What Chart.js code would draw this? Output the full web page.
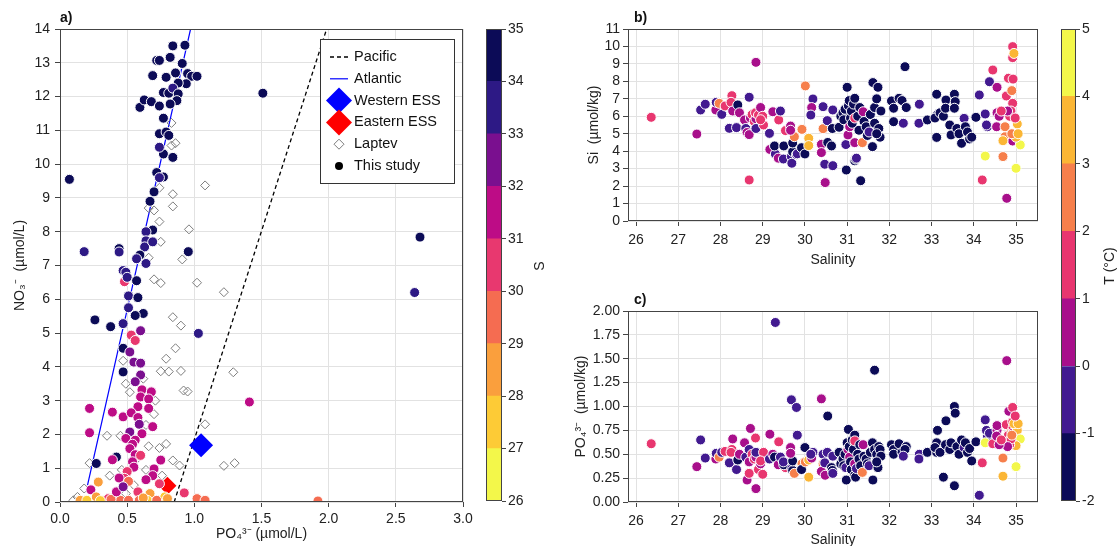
<!DOCTYPE html>
<html>
<head>
<meta charset="utf-8">
<script src="https://cdn.jsdelivr.net/npm/chart.js@4.4.1/dist/chart.umd.min.js"></script>
<style>
  html, body { margin: 0; padding: 0; background: #fff; }
  #wrap { position: relative; width: 1120px; height: 546px; overflow: hidden; }
  canvas { position: absolute; }
</style>
</head>
<body>
<div id="wrap">
  <canvas id="panelA" width="480" height="546" style="left:0;top:0"></canvas>
  <canvas id="barS" width="70" height="546" style="left:486px;top:0"></canvas>
  <canvas id="panelB" width="486" height="272" style="left:560px;top:0"></canvas>
  <canvas id="panelC" width="486" height="280" style="left:560px;top:272px"></canvas>
  <canvas id="barT" width="59" height="546" style="left:1061px;top:0"></canvas>
</div>
<script>
// ---- panel a: NO3 vs PO4, coloured by salinity ----
const studyPO4 = [
  0.07, 0.18, 0.44, 0.44, 0.47, 1.51, 0.595, 0.627, 0.68, 0.69,
  0.72, 0.74, 0.74, 0.77, 0.74, 0.79, 0.81, 0.77, 0.84, 0.74,
  0.72, 0.77, 0.74, 0.70, 0.67, 0.69, 0.64, 0.64, 0.63, 0.69,
  0.595, 0.57, 0.64, 0.955, 0.79, 0.84, 0.93, 0.82, 0.91, 0.86,
  0.95, 0.98, 1.02, 0.94, 0.88, 0.77, 0.81, 0.84, 0.88, 0.87,
  0.82, 2.68, 2.64, 1.92, 0.26, 0.377, 0.27, 0.42, 0.39, 0.22,
  0.22, 0.39, 0.47, 0.48, 0.49, 0.50, 0.51, 0.57, 0.58, 0.62,
  0.56, 0.51, 0.47, 0.53, 0.56, 0.60, 0.47, 0.52, 0.55, 0.60,
  0.60, 0.47, 0.56, 0.61, 0.68, 0.60, 0.66, 0.58, 0.66, 0.53,
  0.58, 0.59, 0.52, 0.61, 0.69, 0.49, 0.56, 0.54, 0.52, 0.56,
  0.54, 0.60, 0.55, 0.70, 0.75, 0.69, 0.74, 0.64, 0.50, 0.48,
  0.44, 0.23, 0.285, 0.51, 0.58, 0.925, 0.67, 0.78, 0.15, 0.20,
  0.27, 0.32, 0.36, 0.41, 0.45, 0.51, 0.59, 0.65, 0.72, 0.80,
  1.02, 1.08, 0.30, 0.38, 0.62, 0.42, 0.47, 1.41, 1.03
];
const studyNO3 = [
  9.55, 7.41, 7.50, 7.40, 6.85, 12.10, 11.68, 11.90, 11.85, 12.62,
  13.07, 13.07, 11.72, 11.36, 10.90, 10.95, 10.85, 10.30, 10.20, 10.50,
  9.75, 9.62, 9.60, 9.18, 8.90, 8.05, 8.00, 7.73, 7.55, 7.70,
  7.31, 7.20, 7.06, 7.41, 12.57, 13.50, 13.52, 13.16, 12.98, 12.70,
  12.68, 12.60, 12.60, 12.38, 12.40, 12.12, 12.10, 12.25, 12.08, 11.88,
  11.78, 7.84, 6.20, 0.03, 5.39, 5.19, 1.14, 1.33, 1.25, 2.77,
  2.05, 2.66, 2.52, 6.52, 6.80, 6.65, 6.10, 6.55, 6.05, 5.58,
  5.52, 5.75, 5.28, 4.94, 4.78, 5.07, 4.55, 4.44, 4.14, 4.11,
  3.76, 3.85, 3.56, 3.32, 3.26, 3.11, 3.05, 2.82, 2.77, 2.64,
  2.50, 2.30, 2.07, 2.02, 2.23, 1.88, 1.83, 1.71, 1.58, 1.40,
  1.19, 1.38, 1.03, 0.98, 1.24, 0.78, 0.54, 0.66, 0.90, 0.70,
  0.71, 0.36, 0.59, 0.61, 0.30, 0.27, 0.25, 0.15, 0.05, 0.05,
  0.15, 0.05, 0.10, 0.05, 0.05, 0.05, 0.05, 0.05, 0.05, 0.10,
  0.10, 0.05, 0.04, 0.08, 0.12, 0.30, 0.45, 2.96, 4.99
];
const studySal = [
  34.6, 33.6, 34.4, 33.5, 33.4, 34.5, 34.7, 34.5, 34.6, 34.5,
  34.6, 34.4, 34.5, 34.3, 34.5, 34.4, 34.6, 34.5, 34.5, 33.6,
  34.4, 34.5, 33.5, 34.5, 34.6, 34.4, 33.5, 33.4, 33.5, 33.6,
  34.5, 33.5, 33.4, 34.5, 34.6, 34.7, 34.6, 34.5, 34.6, 34.5,
  34.5, 34.6, 34.5, 34.6, 34.5, 34.5, 34.6, 33.6, 34.5, 34.4,
  34.5, 34.6, 33.6, 29.5, 34.5, 34.6, 34.5, 34.5, 31.5, 31.5,
  31.5, 31.5, 31.4, 30.5, 33.5, 33.6, 33.5, 34.5, 34.4, 34.5,
  34.6, 33.5, 33.4, 30.5, 30.6, 32.5, 34.5, 32.5, 32.5, 32.4,
  32.5, 34.5, 32.5, 31.5, 31.5, 31.4, 31.5, 31.5, 31.6, 31.5,
  31.5, 32.5, 32.5, 31.5, 31.5, 31.5, 31.4, 31.5, 31.5, 31.5,
  31.6, 30.5, 31.5, 31.5, 31.3, 31.5, 30.5, 31.5, 30.5, 30.5,
  31.5, 31.5, 28.5, 29.5, 30.5, 30.5, 28.5, 27.5, 28.5, 27.5,
  28.5, 28.5, 30.5, 28.5, 29.5, 29.5, 29.5, 27.5, 29.5, 28.5,
  29.5, 29.5, 27.5, 29.5, 28.5, 31.5, 32.5, 31.5, 33.6
];
const laptevPO4 = [
  0.83, 0.83, 0.86, 1.08, 0.84, 0.84, 0.96, 0.74, 0.70, 0.66,
  0.75, 0.91, 0.74, 0.66, 0.70, 0.75, 1.02, 1.22, 0.84, 0.90,
  0.86, 0.79, 0.75, 0.81, 0.90, 1.29, 0.92, 0.95, 0.49, 0.52,
  0.47, 0.62, 0.71, 0.70, 0.64, 1.08, 0.35, 0.45, 0.52, 0.66,
  0.74, 0.79, 0.84, 0.89, 0.56, 0.46, 0.37, 0.22, 0.18, 0.13,
  0.10, 1.22, 1.30, 0.76, 0.80, 0.64, 0.55, 0.49
];
const laptevNO3 = [
  11.22, 10.55, 10.62, 9.37, 9.11, 8.75, 8.07, 8.30, 8.63, 8.70,
  7.70, 7.18, 9.30, 7.23, 6.59, 6.48, 6.49, 6.21, 5.47, 5.22,
  4.55, 4.24, 3.87, 3.86, 3.88, 3.84, 3.30, 3.27, 3.50, 3.25,
  4.18, 3.65, 3.00, 2.60, 2.28, 2.30, 1.96, 1.96, 1.90, 1.65,
  1.60, 1.72, 1.23, 1.08, 1.23, 0.95, 0.78, 1.15, 0.40, 0.15,
  0.05, 1.07, 1.15, 0.78, 0.55, 0.95, 0.50, 0.25
];
const westernPO4 = [1.05], westernNO3 = [1.68];
const easternPO4 = [0.80], easternNO3 = [0.48];
const pacificPO4 = [0.85, 1.985], pacificNO3 = [0, 14];
const atlanticPO4 = [0.205, 0.972], atlanticNO3 = [0.5, 14];

// ---- panels b, c: Si and PO4 vs salinity, coloured by temperature ----
const salinity = [
  26.36, 27.44, 27.53, 27.64, 27.89, 27.90, 27.97, 28.03, 28.11, 28.21,
  28.27, 28.25, 28.29, 28.38, 28.41, 28.45, 28.57, 28.60, 28.63, 28.68,
  28.68, 28.68, 28.71, 28.75, 28.80, 28.84, 28.84, 28.84, 28.83, 28.90,
  28.95, 29.00, 29.02, 28.95, 29.16, 29.17, 29.24, 29.30, 29.28, 29.37,
  29.38, 29.54, 29.42, 29.50, 29.49, 29.66, 29.68, 29.69, 29.71, 29.71,
  29.80, 29.75, 29.82, 29.93, 29.92, 30.01, 30.00, 30.09, 30.09, 30.19,
  30.16, 30.14, 29.66, 30.43, 30.43, 30.39, 30.39, 30.47, 30.48, 30.53,
  30.54, 30.63, 30.65, 30.66, 30.66, 30.81, 30.85, 30.90, 30.92, 30.95,
  30.98, 30.97, 31.00, 31.02, 31.03, 31.06, 31.05, 31.08, 31.10, 31.12,
  31.15, 31.18, 31.18, 31.18, 31.18, 31.20, 31.22, 31.25, 31.28, 31.30,
  31.32, 31.36, 31.38, 31.40, 31.45, 31.48, 31.52, 31.55, 31.60, 31.61,
  31.65, 31.65, 31.70, 31.73, 31.75, 31.78, 31.80, 31.70, 32.05, 32.10,
  32.10, 32.23, 32.30, 32.40, 32.37, 32.33, 32.71, 32.70, 32.90, 33.12,
  33.12, 33.14, 33.08, 33.20, 33.28, 33.34, 33.33, 33.43, 33.46, 33.54,
  33.56, 33.54, 33.60, 33.65, 33.71, 33.77, 33.80, 33.85, 33.90, 33.95,
  34.05, 34.13, 34.27, 34.32, 34.30, 34.27, 34.20, 34.37, 34.45, 34.55,
  34.54, 34.55, 34.69, 34.74, 34.74, 34.77, 34.78, 34.82, 34.83, 34.90,
  34.92, 34.92, 34.93, 34.92, 34.92, 35.00, 35.03, 35.10, 34.95, 35.00,
  34.69, 34.85, 34.88, 34.80, 34.60, 34.65, 34.90, 35.05, 34.98
];
const temperature = [
  1.4, 0.4, -0.6, -0.4, 0.6, -0.5, 2.5, -0.7, 1.5, -0.6,
  1.6, 1.3, 0.5, -0.5, -1.5, 0.5, 0.4, -0.4, 0.8, -0.5,
  0.6, 1.5, 0.5, 1.4, 1.6, 0.5, 0.6, -0.5, 1.5, 1.4,
  0.5, 1.5, 1.6, 1.4, -0.6, 0.6, 0.5, -0.5, -1.5, 0.4,
  1.5, 1.5, -0.5, -1.5, -0.4, 0.5, -0.6, -0.5, -1.5, -1.6,
  -0.5, 2.5, -0.5, 2.4, -1.5, 2.6, -1.5, 3.5, 3.4, -0.5,
  0.5, -0.6, 0.6, -0.5, 2.5, 0.5, 0.6, -0.5, 0.5, -0.5,
  -1.5, -1.5, -1.5, -0.5, -0.5, -1.5, -1.6, -1.5, -1.7, -1.5,
  -1.6, -0.5, -1.6, 0.5, -1.5, 0.5, -1.6, -1.5, -1.5, -1.6,
  -1.5, -1.5, 0.5, 1.5, -1.6, -1.5, -0.5, -1.5, -1.6, -1.5,
  -1.6, 2.5, 0.6, -1.5, -1.6, -1.5, -0.5, -1.5, -1.6, -1.5,
  -1.5, -1.6, -1.5, -1.6, -1.5, -1.5, -1.6, -1.5, -1.5, -1.6,
  -1.5, -1.5, -1.6, -1.5, -1.6, -0.5, -0.5, -0.5, -1.5, -1.6,
  -1.5, -1.6, -1.5, -1.5, -1.6, -1.5, -1.6, -1.5, -1.5, -1.6,
  -1.5, -1.5, -1.6, -1.5, -1.6, -0.5, -1.5, -1.6, -1.5, -1.6,
  -1.5, -0.5, -0.5, -0.5, -0.6, 4.5, 1.5, -0.5, 1.5, 0.5,
  0.5, 0.6, 2.5, 2.5, 2.6, 1.5, 0.5, 1.5, 0.5, 2.5,
  1.5, 1.6, 1.5, 1.4, 0.5, 4.5, 3.5, 4.5, 3.5, 3.5,
  3.4, 1.5, 1.4, 0.5, 0.6, 1.5, 2.5, 3.5, 1.5
];
const silicate = [
  5.94, 4.98, 6.36, 6.69, 6.36, 6.80, 6.74, 6.11, 6.59, 5.31,
  7.18, 6.80, 6.30, 5.35, 6.65, 6.20, 5.79, 5.30, 5.07, 7.09,
  4.95, 2.35, 5.90, 6.10, 5.70, 9.09, 5.86, 5.30, 6.20, 6.07,
  6.50, 6.00, 5.50, 5.80, 5.02, 4.10, 6.26, 3.84, 4.30, 3.60,
  5.79, 5.18, 6.30, 4.30, 3.55, 5.44, 3.69, 3.31, 3.97, 4.47,
  3.80, 4.83, 3.85, 5.25, 4.20, 7.74, 3.84, 4.74, 4.32, 6.99,
  6.50, 6.07, 5.20, 6.55, 5.29, 4.39, 3.92, 3.25, 2.20, 5.75,
  4.50, 4.30, 5.30, 3.17, 6.36, 5.37, 6.00, 6.20, 5.80, 6.40,
  2.92, 4.38, 7.66, 4.93, 6.60, 5.40, 6.90, 5.90, 6.30, 5.60,
  6.70, 7.03, 4.49, 5.90, 3.45, 3.55, 3.60, 6.00, 5.20, 6.50,
  2.31, 4.49, 6.26, 5.70, 5.40, 4.90, 5.10, 6.10, 4.26, 7.93,
  5.60, 6.50, 7.00, 7.66, 5.30, 4.80, 6.30, 5.00, 6.88, 6.46,
  5.69, 7.03, 6.90, 6.50, 8.84, 5.60, 6.69, 5.60, 5.79, 7.26,
  4.79, 6.10, 5.90, 6.20, 6.00, 6.93, 6.46, 5.50, 4.93, 7.26,
  6.84, 6.46, 5.30, 5.00, 4.45, 5.88, 5.40, 5.10, 4.70, 4.80,
  5.94, 7.22, 6.13, 5.40, 5.50, 3.72, 2.35, 7.98, 8.65, 7.66,
  5.40, 6.20, 3.69, 4.83, 5.40, 7.16, 1.30, 8.18, 6.13, 7.47,
  9.99, 9.36, 8.13, 6.74, 4.58, 3.02, 5.56, 4.36, 9.60, 4.80,
  4.60, 6.00, 6.30, 6.30, 6.00, 6.30, 5.00, 5.00, 5.90
];
const phosphate = [
  0.61, 0.37, 0.65, 0.46, 0.45, 0.51, 0.47, 0.52, 0.53, 0.41,
  0.55, 0.52, 0.66, 0.34, 0.44, 0.50, 0.62, 0.47, 0.23, 0.55,
  0.42, 0.30, 0.77, 0.50, 0.45, 0.47, 0.14, 0.52, 0.67, 0.34,
  0.40, 0.29, 0.52, 0.43, 0.45, 0.71, 0.50, 1.88, 0.47, 0.39,
  0.63, 0.36, 0.47, 0.39, 0.42, 0.57, 1.07, 0.35, 0.33, 0.43,
  0.99, 0.30, 0.70, 0.40, 0.34, 0.42, 0.57, 0.26, 0.44, 0.52,
  0.46, 0.50, 0.51, 0.50, 0.40, 1.08, 0.32, 0.41, 0.28, 0.52,
  0.90, 0.36, 0.33, 0.48, 0.30, 0.52, 0.40, 0.45, 0.38, 0.50,
  0.23, 0.36, 0.62, 0.55, 0.76, 0.47, 0.58, 0.42, 0.34, 0.65,
  0.55, 0.70, 0.40, 0.64, 0.28, 0.26, 0.35, 0.50, 0.45, 0.60,
  0.38, 0.31, 0.60, 0.48, 0.45, 0.40, 0.38, 0.52, 0.62, 0.23,
  1.38, 0.55, 0.50, 0.36, 0.58, 0.55, 0.48, 0.42, 0.60, 0.55,
  0.50, 0.61, 0.52, 0.58, 0.55, 0.48, 0.50, 0.45, 0.52, 0.52,
  0.62, 0.75, 0.57, 0.52, 0.26, 0.85, 0.60, 0.55, 0.62, 1.00,
  0.93, 0.17, 0.58, 0.50, 0.65, 0.57, 0.62, 0.52, 0.56, 0.43,
  0.63, 0.07, 0.86, 0.68, 0.75, 0.62, 0.41, 0.72, 0.61, 0.75,
  0.69, 0.80, 0.46, 0.66, 0.62, 0.81, 1.48, 0.70, 0.95, 0.74,
  0.99, 0.84, 0.78, 0.68, 0.72, 0.37, 0.75, 0.66, 0.82, 0.59,
  0.27, 0.60, 0.66, 0.58, 0.60, 0.65, 0.70, 0.82, 0.90
];

// colour classes
const salBreaks = [26, 27, 28, 29, 30, 31, 32, 33, 34, 35];
const salColors = ['#f3f74a', '#fdcb36', '#fa9f3d', '#f56c51', '#e8386f', '#bd0c86', '#7a0f8f', '#2d1985', '#0c0b57'];
const tempBreaks = [-2, -1, 0, 1, 2, 3, 4, 5];
const tempColors = ['#0c0b57', '#421a90', '#a80f8b', '#e8366f', '#f67f4b', '#fbb635', '#f3f74a'];
const salTicks = [26, 27, 28, 29, 30, 31, 32, 33, 34, 35];

const FONT = "'Liberation Sans', Arial, Helvetica, sans-serif";
Chart.defaults.font.family = FONT;
Chart.defaults.font.size = 14;
Chart.defaults.color = '#222';

function classColor(v, breaks, colors) {
  for (let i = 0; i < colors.length; i++) {
    if (v < breaks[i + 1]) return colors[i];
  }
  return colors[colors.length - 1];
}
const pairs = (xs, ys) => xs.map((x, i) => ({ x: x, y: ys[i] }));

// box around the plotting area
const frame = {
  id: 'frame',
  afterDatasetsDraw(chart) {
    const { ctx, chartArea: a } = chart;
    ctx.save();
    ctx.strokeStyle = '#444';
    ctx.lineWidth = 1;
    ctx.strokeRect(Math.round(a.left) + 0.5, Math.round(a.top) + 0.5,
      Math.round(a.width) - 1, Math.round(a.height) - 1);
    ctx.restore();
  }
};

// "a)", "b)", "c)"
const panelTag = {
  id: 'panelTag',
  afterDraw(chart, args, opts) {
    const { ctx, chartArea: a } = chart;
    ctx.save();
    ctx.font = 'bold 14px ' + FONT;
    ctx.fillStyle = '#111';
    ctx.textBaseline = 'alphabetic';
    ctx.fillText(opts.text, a.left + (opts.dx || 0), a.top - 7);
    ctx.restore();
  }
};

// vertical caption next to a colour bar
const barCaption = {
  id: 'barCaption',
  afterDraw(chart, args, opts) {
    const ctx = chart.ctx;
    ctx.save();
    ctx.translate(opts.x, opts.y);
    ctx.rotate(-Math.PI / 2);
    ctx.font = '14px ' + FONT;
    ctx.fillStyle = '#222';
    ctx.textAlign = 'center';
    ctx.textBaseline = 'middle';
    ctx.fillText(opts.text, 0, 0);
    ctx.restore();
  }
};

// legend box in the upper right of panel a
const insetLegend = {
  id: 'insetLegend',
  afterDraw(chart, args, opts) {
    const { ctx, chartArea: a } = chart;
    const x0 = Math.round(a.right - opts.right - opts.width);
    const y0 = Math.round(a.top + opts.top);
    ctx.save();
    ctx.fillStyle = '#fff';
    ctx.fillRect(x0, y0, opts.width, opts.height);
    ctx.strokeStyle = '#333';
    ctx.lineWidth = 1;
    ctx.strokeRect(x0 + 0.5, y0 + 0.5, opts.width, opts.height);
    ctx.font = '14.5px ' + FONT;
    ctx.textBaseline = 'middle';
    opts.items.forEach((label, i) => {
      const ds = chart.data.datasets.find(d => d.label === label);
      const cx = x0 + 19, cy = y0 + 18 + i * opts.rowHeight;
      const r = opts.sizes[i];
      ctx.save();
      if (ds.showLine) {
        ctx.strokeStyle = ds.borderColor;
        ctx.lineWidth = ds.borderWidth;
        ctx.setLineDash(ds.borderDash || []);
        ctx.beginPath();
        ctx.moveTo(cx - 9, cy);
        ctx.lineTo(cx + 9, cy);
        ctx.stroke();
      } else if (ds.pointStyle === 'rectRot') {
        ctx.beginPath();
        ctx.moveTo(cx, cy - r);
        ctx.lineTo(cx + r, cy);
        ctx.lineTo(cx, cy + r);
        ctx.lineTo(cx - r, cy);
        ctx.closePath();
        if (ds.legendFill) { ctx.fillStyle = ds.legendFill; ctx.fill(); }
        if (ds.pointBorderWidth) {
          ctx.strokeStyle = ds.pointBorderColor;
          ctx.lineWidth = ds.pointBorderWidth;
          ctx.stroke();
        }
      } else {
        ctx.beginPath();
        ctx.arc(cx, cy, r, 0, Math.PI * 2);
        ctx.fillStyle = ds.legendFill;
        ctx.fill();
      }
      ctx.restore();
      ctx.fillStyle = '#111';
      ctx.fillText(label, x0 + 34, cy);
    });
    ctx.restore();
  }
};

const gridStyle = { color: '#e2e2e2', lineWidth: 1, tickColor: '#444', tickLength: 5 };

// panel a
new Chart(document.getElementById('panelA'), {
  type: 'scatter',
  data: {
    datasets: [
      {
        label: 'This study',
        data: pairs(studyPO4, studyNO3),
        pointRadius: 5,
        pointBackgroundColor: studySal.map(s => classColor(s, salBreaks, salColors)),
        pointBorderColor: '#fff',
        pointBorderWidth: 1,
        legendFill: '#000',
        clip: 0,
        order: 1
      },
      {
        label: 'Western ESS',
        data: pairs(westernPO4, westernNO3),
        pointStyle: 'rectRot',
        pointRadius: 12,
        pointBackgroundColor: '#0000ff',
        pointBorderWidth: 0,
        legendFill: '#0000ff',
        order: 2
      },
      {
        label: 'Eastern ESS',
        data: pairs(easternPO4, easternNO3),
        pointStyle: 'rectRot',
        pointRadius: 9,
        pointBackgroundColor: '#ff0000',
        pointBorderWidth: 0,
        legendFill: '#ff0000',
        order: 3
      },
      {
        label: 'Laptev',
        data: pairs(laptevPO4, laptevNO3),
        pointStyle: 'rectRot',
        pointRadius: 4.5,
        pointBackgroundColor: 'rgba(255,255,255,0)',
        pointBorderColor: '#7d7d7d',
        pointBorderWidth: 1,
        legendFill: '#fff',
        clip: 0,
        order: 4
      },
      {
        label: 'Pacific',
        data: pairs(pacificPO4, pacificNO3),
        showLine: true,
        borderColor: '#000',
        borderWidth: 1.3,
        borderDash: [4, 3],
        pointRadius: 0,
        order: 5
      },
      {
        label: 'Atlantic',
        data: pairs(atlanticPO4, atlanticNO3),
        showLine: true,
        borderColor: '#0000ff',
        borderWidth: 1.2,
        pointRadius: 0,
        order: 6
      }
    ]
  },
  options: {
    responsive: false,
    animation: false,
    events: [],
    devicePixelRatio: 1,
    layout: { padding: { top: 29, right: 17, left: 0, bottom: 0 } },
    plugins: {
      legend: { display: false },
      tooltip: { enabled: false },
      panelTag: { text: 'a)' },
      insetLegend: {
        items: ['Pacific', 'Atlantic', 'Western ESS', 'Eastern ESS', 'Laptev', 'This study'],
        sizes: [0, 0, 13, 13, 5, 4],
        right: 9, top: 10, width: 134, height: 144, rowHeight: 21.8
      }
    },
    scales: {
      x: {
        type: 'linear', min: 0, max: 3,
        ticks: { stepSize: 0.5, padding: 4, autoSkip: false, callback: v => v.toFixed(1) },
        grid: gridStyle,
        border: { display: false },
        title: { display: true, text: 'PO\u2084\u00B3\u207B (\u00B5mol/L)', padding: { top: 0, bottom: 3 } },
        afterFit: s => { s.height = 44; }
      },
      y: {
        min: 0, max: 14,
        ticks: { stepSize: 1, padding: 5, autoSkip: false },
        grid: gridStyle,
        border: { display: false },
        title: { display: true, text: 'NO\u2083\u207B  (\u00B5mol/L)', padding: { top: 12, bottom: 0 } },
        afterFit: s => { s.width = 60; }
      }
    }
  },
  plugins: [frame, panelTag, insetLegend]
});

// panels b and c share the salinity axis and temperature colours
function salinityPanel(id, values, yMax, yStep, digits, yTitle, titlePad, tag, xHeight, padTop) {
  return new Chart(document.getElementById(id), {
    type: 'scatter',
    data: {
      datasets: [{
        label: tag,
        data: pairs(salinity, values),
        pointRadius: 5,
        pointBackgroundColor: temperature.map(t => classColor(t, tempBreaks, tempColors)),
        pointBorderColor: '#fff',
        pointBorderWidth: 1,
        clip: 0
      }]
    },
    options: {
      responsive: false,
      animation: false,
      events: [],
      devicePixelRatio: 1,
      layout: { padding: { top: padTop, right: 8, left: 0, bottom: 0 } },
      plugins: {
        legend: { display: false },
        tooltip: { enabled: false },
        panelTag: { text: tag, dx: 6 }
      },
      scales: {
        x: {
          type: 'linear', min: 25.81, max: 35.52,
          afterBuildTicks: s => { s.ticks = salTicks.map(v => ({ value: v })); },
          ticks: { padding: 6, autoSkip: false, callback: v => String(v) },
          grid: gridStyle,
          border: { display: false },
          title: { display: true, text: 'Salinity', padding: { top: 0, bottom: 3 } },
          afterFit: s => { s.height = xHeight; }
        },
        y: {
          min: 0, max: yMax,
          ticks: { stepSize: yStep, padding: 3, autoSkip: false, callback: v => v.toFixed(digits) },
          grid: gridStyle,
          border: { display: false },
          title: { display: true, text: yTitle, padding: { top: titlePad, bottom: 0 } },
          afterFit: s => { s.width = 68; }
        }
      }
    },
    plugins: [frame, panelTag]
  });
}
salinityPanel('panelB', silicate, 11, 1, 0, 'Si  (\u00B5mol/kg)', 26, 'b)', 51, 29);
salinityPanel('panelC', phosphate, 2, 0.25, 2, 'PO\u2084\u00B3\u207B  (\u00B5mol/kg)', 13, 'c)', 50, 39);

// discrete colour bars, one floating bar per class
function colorBar(id, breaks, colors, axisWidth, caption, capX) {
  return new Chart(document.getElementById(id), {
    type: 'bar',
    data: {
      labels: [''],
      datasets: colors.map((c, i) => ({
        data: [[breaks[i], breaks[i + 1]]],
        backgroundColor: c,
        borderWidth: 0,
        grouped: false,
        barPercentage: 1,
        categoryPercentage: 1
      }))
    },
    options: {
      responsive: false,
      animation: false,
      events: [],
      devicePixelRatio: 1,
      layout: { padding: { top: 29, bottom: 45, left: 0, right: 0 } },
      plugins: {
        legend: { display: false },
        tooltip: { enabled: false },
        barCaption: { text: caption, x: capX, y: 266 }
      },
      scales: {
        x: { display: false },
        y: {
          position: 'right',
          min: breaks[0], max: breaks[breaks.length - 1],
          afterBuildTicks: s => { s.ticks = breaks.map(v => ({ value: v })); },
          ticks: { padding: 2, autoSkip: false, callback: v => String(v) },
          grid: { drawOnChartArea: false, drawTicks: true, tickLength: 4, tickColor: '#444' },
          border: { display: false },
          afterFit: s => { s.width = axisWidth; }
        }
      }
    },
    plugins: [frame, barCaption]
  });
}
colorBar('barS', salBreaks, salColors, 54, 'S', 54);
colorBar('barT', tempBreaks, tempColors, 44, 'T (\u00B0C)', 49);
</script>
</body>
</html>
